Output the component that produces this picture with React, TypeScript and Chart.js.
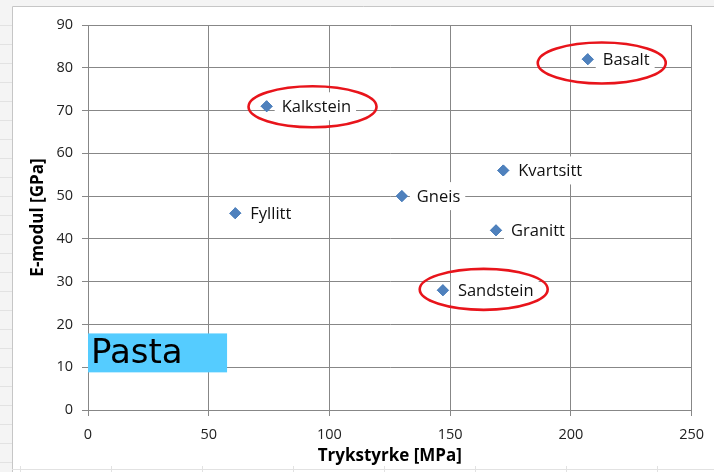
import React, { useEffect, useRef } from "react";
import { Chart, registerables } from "chart.js";

Chart.register(...registerables);

// ---- data ----
const rockNames = ["Fyllitt", "Kalkstein", "Gneis", "Sandstein", "Granitt", "Kvartsitt", "Basalt"];
const strengthMPa = [61, 74, 130, 147, 169, 172, 207];
const modulusGPa = [46, 71, 50, 28, 42, 56, 82];

const xTickValues = [0, 50, 100, 150, 200, 250];
const yTickValues = [0, 10, 20, 30, 40, 50, 60, 70, 80, 90];
const xTitle = "Trykstyrke [MPa]";
const yTitle = "E-modul [GPa]";

// highlighted rocks (red ellipses), centres in data units
const ellipseNames = ["Kalkstein", "Basalt", "Sandstein"];
const ellipseCenterX = [93, 212.8, 163.9];
const ellipseCenterY = [70.9, 81.1, 28.2];

// "Pasta" box, in data units
const pastaText = "Pasta";
const pastaX = [0, 57.6];
const pastaY = [8.8, 17.9];

const W = 714;
const H = 472;
const GRID = "#878787";
const LABEL_FONT = "'Open Sans', Lato, sans-serif";

const decorPlugin = {
  id: "decor",
  beforeDraw(chart: any) {
    const ctx = chart.ctx;
    ctx.save();
    ctx.fillStyle = "#ffffff";
    ctx.fillRect(0, 0, W, H);
    // spreadsheet-like surroundings
    ctx.fillStyle = "#f4f4f4";
    ctx.fillRect(0, 0, W, 6);
    ctx.fillRect(0, 0, 12, H);
    ctx.strokeStyle = "#c6c6c6";
    ctx.lineWidth = 1;
    ctx.beginPath();
    ctx.moveTo(12.5, 6.5);
    ctx.lineTo(W, 6.5);
    ctx.moveTo(12.5, 6.5);
    ctx.lineTo(12.5, H);
    ctx.stroke();
    ctx.strokeStyle = "#e2e2e2";
    ctx.beginPath();
    for (let y = 25.5; y < H; y += 19) {
      ctx.moveTo(0, y);
      ctx.lineTo(12, y);
    }
    ctx.moveTo(12, 469.5);
    ctx.lineTo(W, 469.5);
    for (let x = 20.5; x < W; x += 91) {
      ctx.moveTo(x, 466);
      ctx.lineTo(x, H);
    }
    ctx.stroke();
    ctx.restore();
  },
};

const labelPlugin = {
  id: "pointLabels",
  afterDatasetsDraw(chart: any) {
    const ctx = chart.ctx;
    const meta = chart.getDatasetMeta(0);
    ctx.save();
    ctx.font = `16.5px ${LABEL_FONT}`;
    ctx.textBaseline = "middle";
    ctx.textAlign = "left";
    meta.data.forEach((el: any, i: number) => {
      const name = rockNames[i];
      const tw = ctx.measureText(name).width;
      const tx = el.x + 15;
      ctx.fillStyle = "#ffffff";
      ctx.fillRect(el.x + 8, el.y - 14, tx - (el.x + 8) + tw + 5, 28);
      ctx.fillStyle = "#111111";
      ctx.fillText(name, tx, el.y + 1);
    });
    // redraw markers on top of boxes
    meta.data.forEach((el: any) => el.draw(ctx, chart.chartArea));
    ctx.restore();
  },
};

const overlayPlugin = {
  id: "overlays",
  afterDraw(chart: any) {
    const ctx = chart.ctx;
    const xs = chart.scales.x;
    const ys = chart.scales.y;
    ctx.save();
    // red ellipses
    ctx.strokeStyle = "#e8141b";
    ctx.lineWidth = 2.6;
    ellipseNames.forEach((_, i) => {
      const cx = xs.getPixelForValue(ellipseCenterX[i]);
      const cy = ys.getPixelForValue(ellipseCenterY[i]);
      ctx.beginPath();
      ctx.ellipse(cx, cy, 64, 20.5, 0, 0, Math.PI * 2);
      ctx.stroke();
    });
    // Pasta box
    const x0 = xs.getPixelForValue(pastaX[0]);
    const x1 = xs.getPixelForValue(pastaX[1]);
    const y0 = ys.getPixelForValue(pastaY[1]);
    const y1 = ys.getPixelForValue(pastaY[0]);
    ctx.fillStyle = "#55ccff";
    ctx.fillRect(x0, y0, x1 - x0, y1 - y0);
    ctx.fillStyle = "#000000";
    ctx.font = "34px 'DejaVu Sans', sans-serif";
    ctx.textBaseline = "alphabetic";
    ctx.textAlign = "left";
    ctx.fillText(pastaText, x0 + 3, y1 - 9);
    ctx.restore();
  },
};

export default function App() {
  const ref = useRef<HTMLCanvasElement | null>(null);

  useEffect(() => {
    document.body.style.margin = "0";
    const canvas = ref.current;
    if (!canvas) return;
    const chart = new Chart(canvas, {
      type: "scatter",
      data: {
        datasets: [
          {
            label: "Bergarter",
            data: strengthMPa.map((x, i) => ({ x, y: modulusGPa[i] })),
            pointStyle: "rectRot",
            pointRadius: 5.5,
            pointHoverRadius: 5.5,
            backgroundColor: "#4f81bd",
            borderColor: "#4f81bd",
            borderWidth: 1,
          },
        ],
      },
      options: {
        responsive: false,
        animation: false,
        devicePixelRatio: 1,
        events: [],
        layout: { padding: { left: 13, top: 25, right: 21, bottom: 0 } },
        plugins: {
          legend: { display: false },
          tooltip: { enabled: false },
          title: { display: false },
        },
        scales: {
          x: {
            type: "linear",
            min: 0,
            max: 250,
            afterBuildTicks: (s: any) => {
              s.ticks = xTickValues.map((v) => ({ value: v }));
            },
            afterFit: (s: any) => {
              s.height = 62;
            },
            ticks: {
              color: "#222222",
              font: { family: LABEL_FONT, size: 14.5 },
              padding: 10,
              maxRotation: 0,
            },
            grid: { color: GRID, lineWidth: 1, tickLength: 6, drawTicks: true },
            border: { color: GRID, width: 1 },
            title: {
              display: true,
              text: xTitle,
              color: "#000000",
              font: { family: LABEL_FONT, size: 17, weight: "bold" },
              padding: { top: 0, bottom: 6 },
            },
          },
          y: {
            type: "linear",
            min: 0,
            max: 90,
            afterBuildTicks: (s: any) => {
              s.ticks = yTickValues.map((v) => ({ value: v }));
            },
            afterFit: (s: any) => {
              s.width = 75;
            },
            ticks: {
              color: "#222222",
              font: { family: LABEL_FONT, size: 14.5 },
              padding: 9,
            },
            grid: { color: GRID, lineWidth: 1, tickLength: 6, drawTicks: true },
            border: { color: GRID, width: 1 },
            title: {
              display: true,
              text: yTitle,
              color: "#000000",
              font: { family: LABEL_FONT, size: 17, weight: "bold" },
              padding: { top: 15, bottom: 0 },
            },
          },
        },
      },
      plugins: [decorPlugin, labelPlugin, overlayPlugin],
    } as any);
    return () => chart.destroy();
  }, []);

  return (
    <div style={{ width: W, height: H }}>
      <canvas ref={ref} width={W} height={H} style={{ display: "block", width: W, height: H }} />
    </div>
  );
}
